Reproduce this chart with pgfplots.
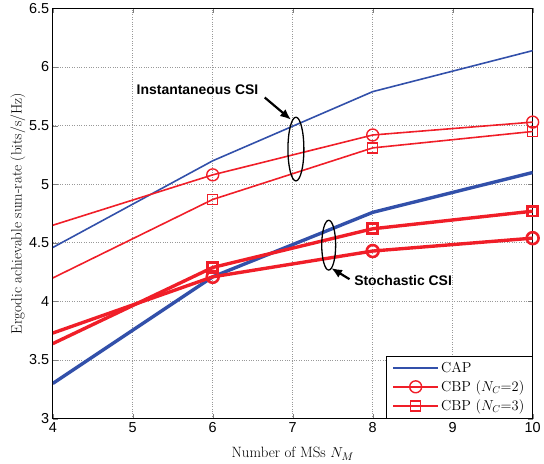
\documentclass[border=0pt]{standalone}
\usepackage{pgfplots}
\pgfplotsset{compat=1.18}
\usetikzlibrary{arrows.meta}
\usepackage{fontspec}
\newfontfamily\arial{Liberation Sans}
\definecolor{cblue}{RGB}{50,80,170}
\definecolor{cred}{RGB}{240,30,40}
\begin{document}
\begin{tikzpicture}
\begin{axis}[
    name=ax,
    width=482pt, height=412pt, scale only axis,
    xmin=4, xmax=10, ymin=3, ymax=6.5,
    xtick={4,5,...,10},
    ytick={3,3.5,...,6.5},
    /pgf/number format/assume math mode=true,
    yticklabel style={/pgf/number format/fixed},
    tick label style={font=\arial\fontsize{14.5}{14.5}\selectfont},
    label style={font=\fontsize{15}{15}\selectfont},
    xlabel={Number of MSs $N_M$},
    ylabel={Ergodic achievable sum-rate (bits/s/Hz)},
    xlabel style={yshift=-8pt},
    ylabel style={yshift=-3pt},
    grid=major,
    grid style={dotted, gray!80, line width=0.7pt},
    tick align=inside,
    major tick length=5pt,
    axis line style={line width=0.8pt},
    legend style={at={(1,0)}, anchor=south east, font=\fontsize{14.5}{14.5}\selectfont,
        draw=black, line width=0.8pt, inner xsep=6pt, inner ysep=4pt, row sep=3pt},
    legend cell align=left,
    legend image code/.code={
        \draw[mark indices={2}] plot coordinates {(0cm,0cm) (0.8cm,0cm) (1.6cm,0cm)};
    },
    legend image post style={line width=1.6pt},
]
% instantaneous CSI (thin)
\addplot[cblue, line width=1.6pt] coordinates {(4,4.46) (6,5.20) (8,5.79) (10,6.14)};
\addplot[cred, line width=1.6pt, mark=o, mark size=6pt, mark indices={2,3,4}, mark options={line width=1.4pt}] coordinates {(4,4.65) (6,5.08) (8,5.42) (10,5.53)};
\addplot[cred, line width=1.6pt, mark=square, mark size=5pt, mark indices={2,3,4}, mark options={line width=1.4pt}] coordinates {(4,4.20) (6,4.87) (8,5.31) (10,5.45)};
\legend{CAP, CBP ($N_C$=2), CBP ($N_C$=3)}
% stochastic CSI (thick)
\addplot[cblue, line width=3.4pt, forget plot] coordinates {(4,3.30) (6,4.21) (8,4.76) (10,5.10)};
\addplot[cred, line width=3.4pt, mark=o, mark size=6pt, mark indices={2,3,4}, mark options={line width=2.6pt}, forget plot] coordinates {(4,3.73) (6,4.21) (8,4.43) (10,4.54)};
\addplot[cred, line width=3.4pt, mark=square, mark size=5pt, mark indices={2,3,4}, mark options={line width=2.6pt}, forget plot] coordinates {(4,3.64) (6,4.29) (8,4.62) (10,4.77)};
% annotations
\draw[black, line width=1.3pt] (axis cs:7.04,5.30) ellipse [x radius=8pt, y radius=32pt];
\draw[black, line width=1.3pt] (axis cs:7.45,4.48) ellipse [x radius=7pt, y radius=25pt];
\node[font=\arial\bfseries\fontsize{14}{14}\selectfont] at (axis cs:5.81,5.81) {Instantaneous CSI};
\node[font=\arial\bfseries\fontsize{14}{14}\selectfont] at (axis cs:8.38,4.18) {Stochastic CSI};
\draw[-{Latex[length=11pt,width=9pt]}, line width=2.2pt] (axis cs:6.65,5.74) -- (axis cs:6.98,5.55);
\draw[-{Latex[length=11pt,width=9pt]}, line width=2.2pt] (axis cs:7.71,4.19) -- (axis cs:7.48,4.285);
\end{axis}
\path ([xshift=-53pt, yshift=-45pt]ax.south west) rectangle ([xshift=9pt, yshift=8pt]ax.north east);
\end{tikzpicture}
\end{document}
